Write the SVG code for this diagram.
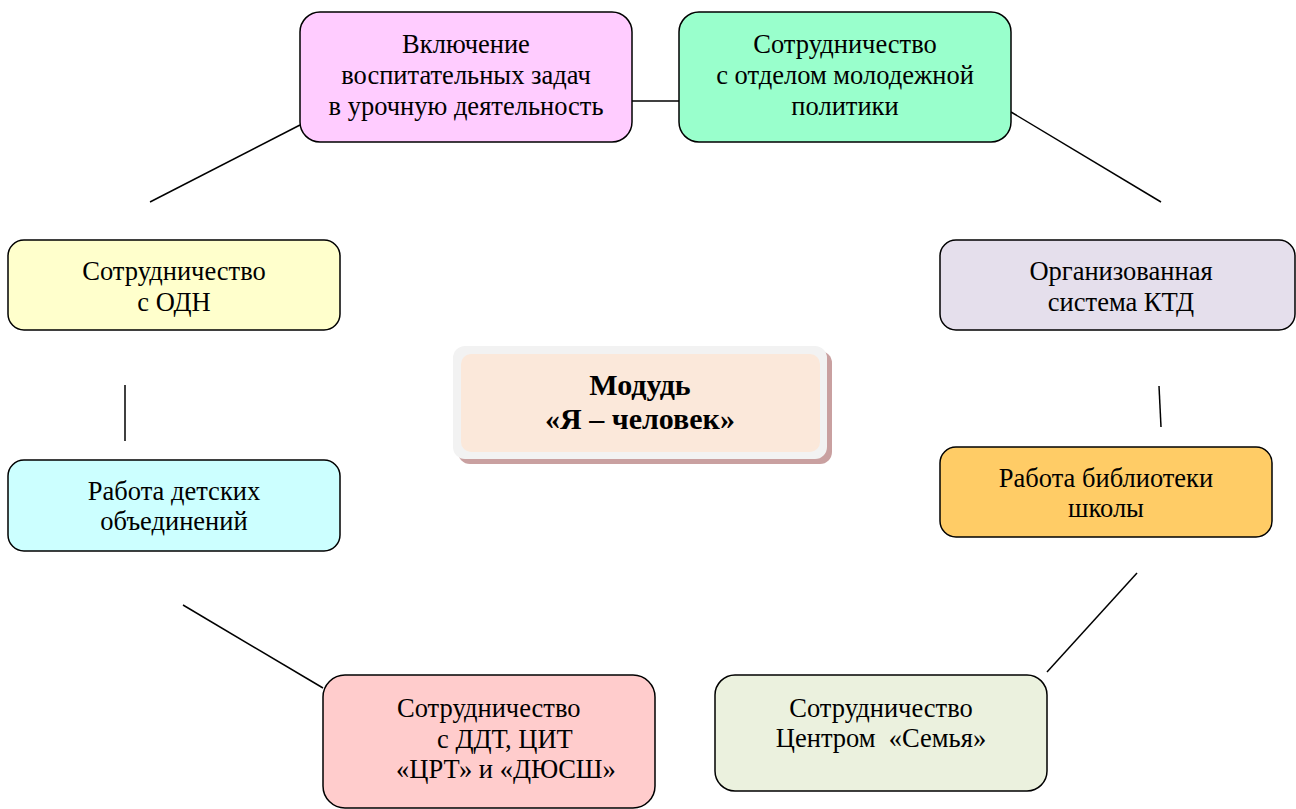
<svg xmlns="http://www.w3.org/2000/svg" width="1296" height="809" viewBox="0 0 1296 809">
<style>
.box{stroke:#000;stroke-width:1.5}
.t{font-family:"Liberation Serif","Times New Roman",serif;font-size:26.5px;fill:#000;text-anchor:middle}
.ts{font-family:"Liberation Serif","Times New Roman",serif;font-size:26.5px;fill:#000}
.b{font-family:"Liberation Serif","Times New Roman",serif;font-size:30px;font-weight:bold;fill:#000;text-anchor:middle}
.c{stroke:#000;stroke-width:1.5;fill:none}
</style>
<rect width="1296" height="809" fill="#fff"/>
<g id="connectors">
<line class="c" x1="632" y1="101" x2="679" y2="101"/>
<line class="c" x1="150" y1="202" x2="300" y2="125"/>
<line class="c" x1="1011" y1="112" x2="1161" y2="202"/>
<line class="c" x1="125" y1="385" x2="125" y2="441"/>
<line class="c" x1="1159" y1="386" x2="1161" y2="427"/>
<line class="c" x1="183" y1="605" x2="323" y2="688"/>
<line class="c" x1="1137" y1="573" x2="1047" y2="672"/>
</g>
<g id="n-vklyuchenie">
<rect class="box" x="300" y="12" width="332" height="130" rx="20" fill="#FFCCFF"/>
<text class="t" x="466" y="53">Включение</text>
<text class="t" x="466" y="84">воспитательных задач</text>
<text class="t" x="466" y="115">в урочную деятельность</text>
</g>
<g id="n-molodezh">
<rect class="box" x="679" y="12" width="332" height="130" rx="20" fill="#99FFCC"/>
<text class="t" x="845" y="53">Сотрудничество</text>
<text class="t" x="845" y="84">с отделом молодежной</text>
<text class="t" x="845" y="115">политики</text>
</g>
<g id="n-odn">
<rect class="box" x="8" y="240" width="332" height="90" rx="16" fill="#FFFFCC"/>
<text class="t" x="174" y="280">Сотрудничество</text>
<text class="t" x="174" y="311">с ОДН</text>
</g>
<g id="n-ktd">
<rect class="box" x="940" y="240" width="355" height="90" rx="16" fill="#E5DFEC"/>
<text class="t" x="1121" y="280">Организованная</text>
<text class="t" x="1121" y="311">система КТД</text>
</g>
<g id="n-center">
<rect x="458" y="351" width="374" height="113" rx="12" fill="#C9A0A0"/>
<rect x="453" y="346" width="374" height="113" rx="12" fill="#F2F2F2"/>
<rect x="461" y="354" width="359" height="98" rx="10" fill="#FBE8DA"/>
<text class="b" x="640" y="395">Модудь</text>
<text class="b" x="640" y="429">«Я – человек»</text>
</g>
<g id="n-detskie">
<rect class="box" x="8" y="460" width="332" height="91" rx="16" fill="#CCFFFF"/>
<text class="t" x="174" y="500">Работа детских</text>
<text class="t" x="174" y="530">объединений</text>
</g>
<g id="n-biblioteka">
<rect class="box" x="940" y="447" width="332" height="90" rx="16" fill="#FFCC66"/>
<text class="t" x="1106" y="487">Работа библиотеки</text>
<text class="t" x="1106" y="517">школы</text>
</g>
<g id="n-ddt">
<rect class="box" x="323" y="675" width="332" height="133" rx="22" fill="#FFCCCC"/>
<text class="ts" x="397" y="717">Сотрудничество</text>
<text class="ts" x="437" y="748">с ДДТ, ЦИТ</text>
<text class="ts" x="396" y="778">«ЦРТ» и «ДЮСШ»</text>
</g>
<g id="n-semya">
<rect class="box" x="715" y="675" width="332" height="116" rx="20" fill="#EBF1DE"/>
<text class="t" x="881" y="717">Сотрудничество</text>
<text class="t" x="881" y="747" xml:space="preserve">Центром  «Семья»</text>
</g>
</svg>
